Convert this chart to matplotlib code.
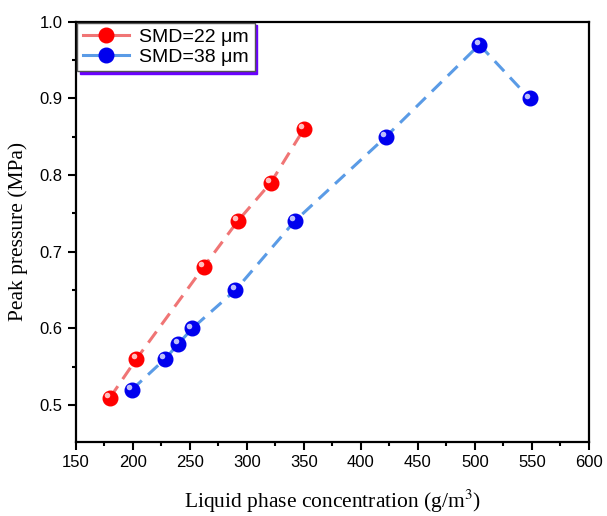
import matplotlib
matplotlib.use("Agg")
import matplotlib.pyplot as plt
import matplotlib.transforms as mtransforms
from matplotlib.ticker import MultipleLocator

# Data
x_22 = [180, 203, 262, 292, 321, 350]
y_22 = [0.51, 0.56, 0.68, 0.74, 0.79, 0.86]

x_38 = [199, 228, 240, 252, 290, 342, 422, 504, 548]
y_38 = [0.52, 0.56, 0.58, 0.60, 0.65, 0.74, 0.85, 0.97, 0.90]

labels = ["SMD=22 μm", "SMD=38 μm"]

LINE_RED = "#f07575"
LINE_BLUE = "#5a9be6"
DOT_RED = "#ff0000"
DOT_BLUE = "#0000ee"

SANS = ["Liberation Sans", "DejaVu Sans"]
SERIF = ["Liberation Serif", "DejaVu Serif"]

matplotlib.rcParams["mathtext.fontset"] = "stix"

fig = plt.figure(figsize=(6.07, 5.16), dpi=100)
ax = fig.add_axes([0.125, 0.1434, 0.845, 0.8146])


def bola(ax, xs, ys, warna_garis, warna_titik, label):
    """Dashed line plus sphere-like markers (dot + small highlight)."""
    ax.plot(xs, ys, color=warna_garis, lw=2.2, dashes=(4.5, 2.8), zorder=2)
    ax.plot(xs, ys, ls="none", marker="o", ms=10.5, mfc=warna_titik,
            mec=warna_titik, zorder=3)
    hl = mtransforms.offset_copy(ax.transData, fig=fig, x=-2.0, y=2.0,
                                 units="points")
    ax.plot(xs, ys, ls="none", marker="o", ms=4, mfc="white", mec="none",
            alpha=0.75, transform=hl, zorder=4)
    # legend proxy
    return ax.plot([], [], color=warna_garis, lw=2.2,
                   marker="o", ms=10.5, mfc=warna_titik, mec=warna_titik,
                   label=label)[0]


h1 = bola(ax, x_22, y_22, LINE_RED, DOT_RED, labels[0])
h2 = bola(ax, x_38, y_38, LINE_BLUE, DOT_BLUE, labels[1])

ax.set_xlim(150, 600)
ax.set_ylim(0.452, 1.0)
ax.xaxis.set_major_locator(MultipleLocator(50))
ax.xaxis.set_minor_locator(MultipleLocator(25))
ax.yaxis.set_major_locator(MultipleLocator(0.1))
ax.yaxis.set_minor_locator(MultipleLocator(0.05))
ax.yaxis.set_major_formatter(plt.FuncFormatter(lambda v, p: f"{v:.1f}"))

ax.tick_params(which="major", direction="out", length=6, width=1.5,
               labelsize=12)
ax.tick_params(which="minor", direction="out", length=3, width=1.5)
for lbl in ax.get_xticklabels() + ax.get_yticklabels():
    lbl.set_family(SANS)
for s in ax.spines.values():
    s.set_linewidth(1.6)

ax.set_xlabel("Liquid phase concentration (g/m$^3$)", family=SERIF,
              fontsize=15.5, labelpad=13)
ax.set_ylabel("Peak pressure (MPa)", family=SERIF, fontsize=15.5, labelpad=8)

leg = ax.legend(handles=[h1, h2], loc="upper left", bbox_to_anchor=(0.0, 1.0),
                borderaxespad=0.05,
                prop={"family": SANS, "size": 14}, fancybox=False,
                edgecolor="#555555", framealpha=1, handlelength=2.4,
                borderpad=0.3, labelspacing=0.1, handletextpad=0.5,
                shadow={"color": "#6a00ff", "alpha": 1})
leg.get_frame().set_linewidth(1.0)

fig.savefig("out.png", dpi=100)
